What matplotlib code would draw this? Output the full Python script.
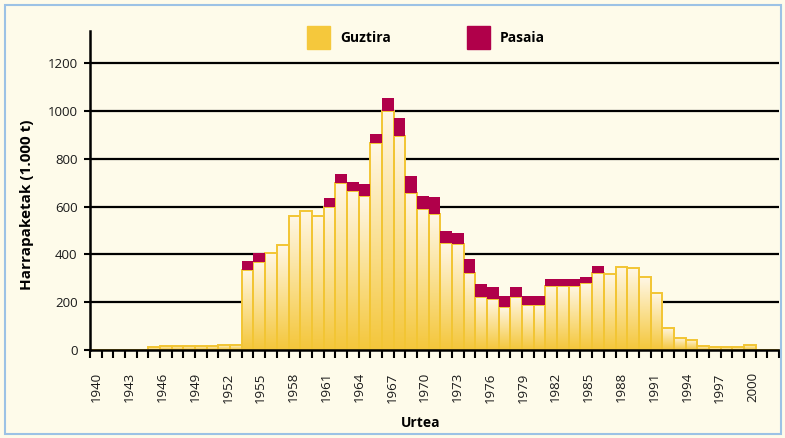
import numpy as np
import matplotlib
matplotlib.use("Agg")
import matplotlib.pyplot as plt
from matplotlib.colors import LinearSegmentedColormap
from matplotlib.patches import Rectangle

plt.rcParams['font.family'] = ['Open Sans', 'DejaVu Sans']

# ---- data (1000 t), one entry per yearly slot starting 1940 ----
years = list(range(1940, 1999))
guztira = [0, 0, 0, 0, 0, 12, 17, 17, 17, 17,
           17, 22, 22, 335, 367, 407, 439, 561, 583, 561,
           600, 697, 665, 644, 865, 1001, 897, 656, 589, 568,
           446, 444, 323, 223, 212, 179, 223, 188, 188, 268,
           268, 268, 279, 321, 317, 349, 342, 304, 240, 93,
           52, 42, 18, 11, 11, 11, 21, 0, 0]
pasaia = [0, 0, 0, 0, 0, 0, 0, 0, 0, 0,
          0, 0, 0, 37, 37, 0, 0, 0, 0, 0,
          37, 38, 37, 50, 37, 52, 72, 72, 55, 71,
          53, 47, 56, 52, 50, 47, 39, 39, 39, 28,
          28, 28, 28, 30, 0, 0, 0, 0, 0, 0,
          0, 0, 0, 0, 0, 0, 0, 0, 0]
tick_years = list(range(1940, 2001, 3))
yticks = [0, 200, 400, 600, 800, 1000, 1200]

BG = '#FEFBEA'
GOLD_EDGE = '#F2C534'
CRIMSON = '#B0004A'
LEGEND_GOLD = '#F5C83C'

W, H = 785, 438
fig = plt.figure(figsize=(W / 100, H / 100), dpi=100, facecolor=BG)
ax = fig.add_axes([90 / W, (H - 350) / H, (779 - 90) / W, (350 - 31) / H])
ax.set_facecolor(BG)

cmap = LinearSegmentedColormap.from_list('g', ['#F4C63A', '#FADF8E', '#FFF7E6'])
grad = np.linspace(0, 1, 256).reshape(-1, 1)
x = np.arange(len(years))
for i, h in zip(x, guztira):
    if h > 0:
        ax.imshow(grad, extent=[i, i + 1, 0, h], origin='lower', aspect='auto',
                  cmap=cmap, zorder=2, interpolation='bilinear')
ax.bar(x, guztira, width=1, align='edge', fill=False, edgecolor=GOLD_EDGE,
       linewidth=1.4, zorder=3)
ax.bar(x, pasaia, bottom=guztira, width=1, align='edge', color=CRIMSON,
       linewidth=0, zorder=4)

ax.set_xlim(0, len(years))
ax.set_ylim(0, 1335)

for v in yticks[1:]:
    ax.axhline(v, color='black', lw=1.6, zorder=1)

for s in ['top', 'right']:
    ax.spines[s].set_visible(False)
for s in ['left', 'bottom']:
    ax.spines[s].set_linewidth(1.8)
    ax.spines[s].set_zorder(5)

ax.set_yticks(yticks)
ax.set_yticklabels([str(v) for v in yticks], fontsize=9.5, color='#1a1a1a')
ax.tick_params(axis='y', length=4, width=1.5, pad=5)

# minor ticks at every slot boundary, labels placed as in the source
ax.set_xticks(np.arange(0, len(years) + 1), minor=True)
ax.tick_params(axis='x', which='minor', length=6, width=1.5)
label_pos = [0.574 + (y - 1940) * 0.936 for y in tick_years]
ax.set_xticks(label_pos)
ax.set_xticklabels([str(y) for y in tick_years], rotation=90, fontsize=9.5,
                   color='#1a1a1a')
ax.tick_params(axis='x', which='major', length=0, pad=16)

fig.text(27 / W, 1 - 205 / H, 'Harrapaketak (1.000 t)', rotation=90,
         ha='center', va='center', fontsize=11, fontweight='bold')
fig.text(421 / W, 1 - 423 / H, 'Urtea', ha='center', va='center',
         fontsize=10, fontweight='bold')

# legend
for x0, col, lab in [(307, LEGEND_GOLD, 'Guztira'), (467, CRIMSON, 'Pasaia')]:
    fig.patches.append(Rectangle((x0 / W, 1 - 49 / H), 23 / W, 23 / H,
                                 transform=fig.transFigure, color=col))
    fig.text((x0 + 33) / W, 1 - 37.5 / H, lab, ha='left', va='center',
             fontsize=10, fontweight='bold')

# frame
fig.patches.append(Rectangle((4.5 / W, 4.5 / H), (W - 9) / W, (H - 9) / H,
                             transform=fig.transFigure, fill=False,
                             edgecolor='#9CC2E5', lw=1.5))

fig.savefig('out.png', dpi=100, facecolor=BG)
